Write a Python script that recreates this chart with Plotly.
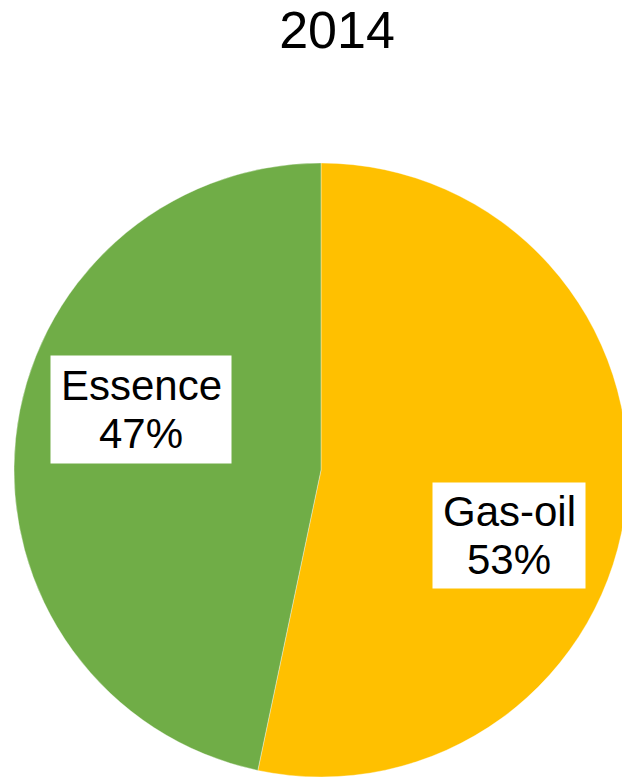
import plotly.graph_objects as go

title_text = "2014"
labels = ["Gas-oil", "Essence"]
values = [53.3, 46.7]
colors = ["#FFC000", "#70AD47"]

W, H = 640, 778  # a little wider than the 622 window: the pie is cut by the right edge
FONT = "Liberation Sans, Arial, sans-serif"

# label box centres and sizes in page pixels
label_box = {"Gas-oil": (509, 535.5, 152, 105), "Essence": (141, 409.5, 180, 107)}
LINE_GAP = 24

def px_x(x):
    return x / W

def px_y(y):
    return 1 - y / H

# pie: centre (321, 470) px, radius 307 px
PIE_CX, PIE_CY, PIE_R = 321, 470, 307

fig = go.Figure(go.Pie(
    labels=labels, values=values, sort=False, direction="clockwise", rotation=0,
    marker=dict(colors=colors, line=dict(color="rgba(255,255,255,0.6)", width=0.6)),
    textinfo="none", hoverinfo="label+percent", showlegend=False,
    domain=dict(x=[(PIE_CX - PIE_R) / W, (PIE_CX + PIE_R) / W],
                y=[1 - (PIE_CY + PIE_R) / H, 1 - (PIE_CY - PIE_R) / H]),
))

total = sum(values)
for lab, v in zip(labels, values):
    cx, cy, bw, bh = label_box[lab]
    fig.add_annotation(
        x=px_x(cx), y=px_y(cy), xref="paper", yref="paper", xanchor="center", yanchor="middle",
        text=" ", showarrow=False, bgcolor="#FFFFFF", borderpad=0, width=bw, height=bh,
        font=dict(family=FONT, size=10),
    )
    for i, line in enumerate([lab, f"{round(100 * v / total):d}%"]):
        fig.add_annotation(
            x=px_x(cx), y=px_y(cy + (i * 2 - 1) * LINE_GAP), xref="paper", yref="paper",
            xanchor="center", yanchor="middle", text=line, showarrow=False,
            font=dict(family=FONT, size=42, color="#000000"),
        )

fig.update_layout(
    width=W, height=H, margin=dict(l=0, r=0, t=0, b=0),
    paper_bgcolor="#FFFFFF", plot_bgcolor="#FFFFFF",
    title=dict(text=title_text, x=337 / W, y=1 - 30 / H, xanchor="center", yanchor="middle",
               xref="container", yref="container",
               font=dict(family=FONT, size=52, color="#000000")),
    font=dict(family=FONT),
)

fig.write_html(
    "out.html",
    config={"displayModeBar": False},
    post_script="document.body.style.margin='0';document.body.style.overflow='hidden';",
)
